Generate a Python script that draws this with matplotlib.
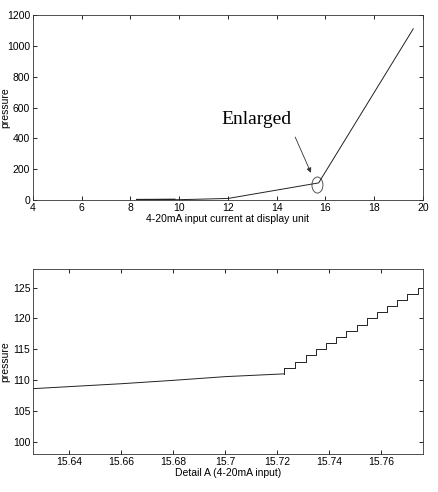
import numpy as np
import matplotlib.pyplot as plt
from matplotlib.patches import Ellipse

plt.rcParams['font.family'] = ['Liberation Sans Narrow', 'Liberation Sans', 'DejaVu Sans']
plt.rcParams['font.size'] = 7.5

# overall curve (mA -> pressure)
current = [8.27, 9.0, 9.8, 10.5, 12.0, 15.72, 19.6]
pressure = [0.0, 0.5, 1.5, 4.0, 10.0, 111.0, 1110.0]

# detail A: linear part then quantised steps
detail_x = [15.626, 15.66, 15.68, 15.70, 15.7227]
detail_y = [108.6, 109.4, 109.95, 110.55, 111.0]
step_x = [15.7227, 15.7269, 15.7311, 15.7349, 15.7388, 15.7426, 15.7465,
          15.7506, 15.7545, 15.7583, 15.7622, 15.7662, 15.7700, 15.7741, 15.7770]
step_y = [112, 113, 114, 115, 116, 117, 118, 119, 120, 121, 122, 123, 124, 125, 125]

fig = plt.figure(figsize=(4.38, 4.92), dpi=100)
ax1 = fig.add_axes([0.0753, 0.5935, 0.8904, 0.376])
ax2 = fig.add_axes([0.0753, 0.0772, 0.8904, 0.376])

lc = '#222222'
ax1.plot(current, pressure, color=lc, lw=0.7)
ax1.plot(current[:3], pressure[:3], color=lc, lw=1.6)
ax1.set_xlim(4, 20)
ax1.set_ylim(0, 1200)
ax1.set_xticks(np.arange(4, 21, 2))
ax1.set_yticks(np.arange(0, 1201, 200))
ax1.set_xlabel('4-20mA input current at display unit', labelpad=1)
ax1.set_ylabel('pressure')
ax1.add_patch(Ellipse((15.67, 97), 0.45, 104, fill=False, ec='#555555', lw=0.7))
ax1.annotate('', xy=(15.45, 160), xytext=(14.71, 425),
             arrowprops=dict(arrowstyle='-|>', color='#333333', lw=0.6,
                             mutation_scale=7))
ax1.text(11.75, 519, 'Enlarged', family='Liberation Serif', fontsize=14,
         va='center', ha='left')

ax2.plot(detail_x, detail_y, color=lc, lw=0.7)
ax2.plot(step_x, step_y, color=lc, lw=0.7, drawstyle='steps-post')
ax2.plot([detail_x[-1], step_x[0]], [detail_y[-1], step_y[0]], color=lc, lw=0.7)
ax2.set_xlim(15.626, 15.776)
ax2.set_ylim(98, 128)
ax2.set_xticks([15.64, 15.66, 15.68, 15.70, 15.72, 15.74, 15.76])
ax2.set_xticklabels(['15.64', '15.66', '15.68', '15.7', '15.72', '15.74', '15.76'])
ax2.set_yticks(np.arange(100, 126, 5))
ax2.set_xlabel('Detail A (4-20mA input)', labelpad=1)
ax2.set_ylabel('pressure')

for ax in (ax1, ax2):
    ax.tick_params(direction='in', top=True, right=True, length=3, width=0.6, pad=2)
    ax.yaxis.set_label_coords(-0.058, 0.5)
    for s in ax.spines.values():
        s.set_linewidth(0.6)
        s.set_color('#333333')

fig.savefig('out.png', dpi=100)
